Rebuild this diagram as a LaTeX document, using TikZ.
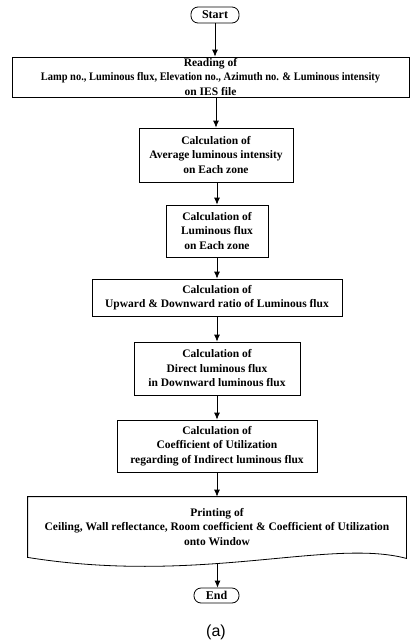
\documentclass[tikz,border=0pt]{standalone}
\usepackage{fontspec}
\setmainfont{Liberation Serif}
\setsansfont{Liberation Sans}
\usetikzlibrary{arrows.meta}

\begin{document}
\begin{tikzpicture}[x=1pt,y=-1pt,line width=0.8pt,
  box/.style={draw,align=center,inner sep=0pt,font=\bfseries\fontsize{11.5}{14.5}\selectfont},
  term/.style={draw,rounded corners=7pt,inner sep=0pt,minimum height=16pt,font=\bfseries\fontsize{12}{12}\selectfont},
  flow/.style={-{Latex[length=7pt,width=6pt]}}]
\useasboundingbox (0,0) rectangle (411,643);
\node[term,minimum width=48pt] (start) at (215,15) {Start};
\node[box,minimum width=397pt,minimum height=40pt] (read) at (210.5,77)
  {Reading of\\\scalebox{0.91}[1]{Lamp no., Luminous flux, Elevation no., Azimuth no. \& Luminous intensity}\\on IES file};
\node[box,minimum width=154pt,minimum height=54pt] (avg) at (216,155)
  {Calculation of\\Average luminous intensity\\on Each zone};
\node[box,minimum width=102pt,minimum height=52pt] (lum) at (217,231)
  {Calculation of\\Luminous flux\\on Each zone};
\node[box,minimum width=250pt,minimum height=37pt] (ratio) at (217,297.5)
  {Calculation of\\Upward \& Downward ratio of Luminous flux};
\node[box,minimum width=166pt,minimum height=53pt] (direct) at (217,368.5)
  {Calculation of\\Direct luminous flux\\in Downward luminous flux};
\node[box,minimum width=200pt,minimum height=52pt] (coef) at (217,446)
  {Calculation of\\Coefficient of Utilization\\regarding of Indirect luminous flux};
\node[box,draw=none,minimum width=378pt,minimum height=60pt] (prt) at (217,527)
  {Printing of\\Ceiling, Wall reflectance, Room coefficient \& Coefficient of Utilization\\onto Window};
\draw (prt.north west) -- (prt.north east) -- ([yshift=-1pt]prt.south east)
  .. controls (330,538) and (200,585) .. coordinate[pos=0.59] (pb) (prt.south west) -- cycle;
\node[term,minimum width=45pt,minimum height=15pt] (end) at (216.5,595.5) {End};
\node[font=\sffamily\fontsize{16}{18}\selectfont] (cap) at (216,632) {(a)};
\draw[flow] (start) -- (read.north -| start);
\draw[flow] (read.south -| avg) -- (avg);
\draw[flow] (avg.south -| lum) -- (lum);
\draw[flow] (lum) -- (ratio);
\draw[flow] (ratio) -- (direct);
\draw[flow] (direct) -- (coef);
\draw[flow] (coef) -- (prt.north);
\draw[flow] (pb) -- (pb |- end.north);
\end{tikzpicture}
\end{document}
